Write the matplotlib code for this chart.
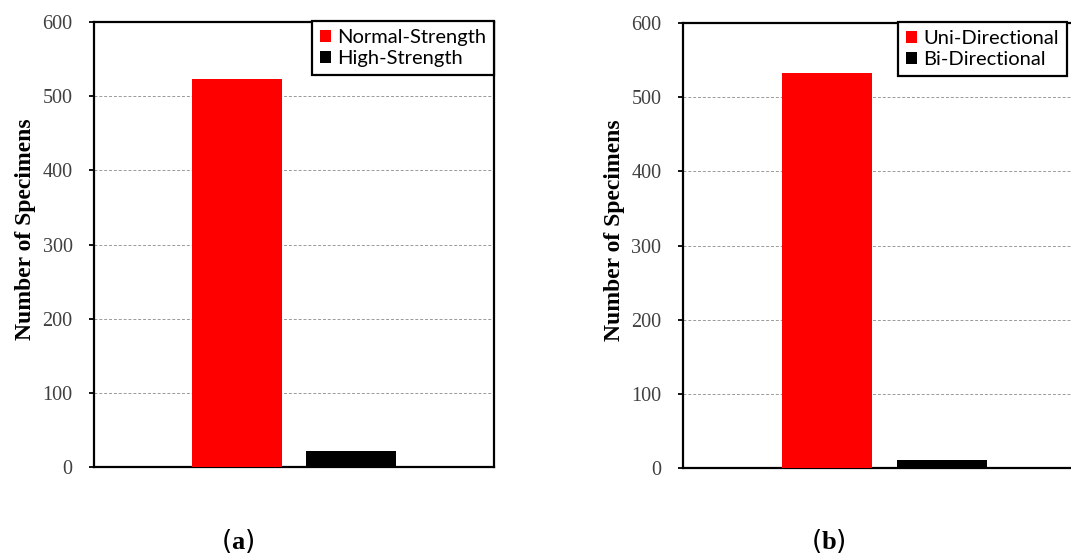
"""Two-panel bar chart: number of specimens by strength and loading direction."""

import matplotlib
matplotlib.use('Agg')
import matplotlib.pyplot as plt
from matplotlib.patches import Patch
import numpy as np

plt.rcParams['mathtext.fontset'] = 'custom'
plt.rcParams['mathtext.rm'] = 'Liberation Serif'
plt.rcParams['mathtext.bf'] = 'Liberation Serif:bold'

# Panel (a): concrete strength
strength_labels = ["Normal-Strength", "High-Strength"]
strength_counts = [523, 21]

# Panel (b): loading direction
direction_labels = ["Uni-Directional", "Bi-Directional"]
direction_counts = [533, 11]

bar_colors = ["#ff0000", "#000000"]
y_ticks = [0, 100, 200, 300, 400, 500, 600]

fig = plt.figure(figsize=(10.71, 5.53), dpi=100, facecolor="white")


def draw_panel(rect, labels, counts, tag, leg_anchor, leg_loc):
    ax = fig.add_axes(rect)
    x = np.arange(len(counts))
    ax.bar(x, counts, width=0.79, color=bar_colors, zorder=3)
    ax.set_xlim(-1.254, 2.254)
    ax.set_ylim(0, 600)
    ax.set_xticks([])
    ax.set_yticks(y_ticks)
    ax.set_yticklabels([str(t) for t in y_ticks], fontsize=14.5,
                       family="Liberation Serif", color="#404040")
    ax.tick_params(axis="y", direction="out", length=3.5, width=1.3, pad=12)
    ax.grid(axis="y", linestyle=(0, (3, 2)), color="#9a9a9a", linewidth=0.7, zorder=0)
    for s in ax.spines.values():
        s.set_linewidth(1.6)
        s.set_color("black")
    ax.set_ylabel("Number of Specimens", fontsize=17, family="Liberation Serif",
                  fontweight="bold")
    ax.yaxis.set_label_coords(-0.145, 0.535)
    handles = [Patch(facecolor=c, edgecolor="none") for c in bar_colors]
    leg = ax.legend(handles, labels, loc=leg_loc, bbox_to_anchor=leg_anchor,
                    borderaxespad=0, fancybox=False, framealpha=1, edgecolor="black",
                    prop={"family": "Lato", "size": 14.5}, handlelength=0.55,
                    handleheight=0.55, handletextpad=0.3, labelspacing=0.2,
                    borderpad=0.4)
    leg.get_frame().set_linewidth(1.6)
    leg.set_zorder(5)
    fig.text(rect[0] + rect[2] * 0.36, 0.0217, r"($\mathbf{%s}$)" % tag,
             ha="center", va="center", fontsize=19)
    return ax


draw_panel([0.0878, 0.1555, 0.3735, 0.8047], strength_labels, strength_counts, "a",
           (1.0, 1.003), "upper right")
draw_panel([0.6377, 0.1537, 0.3763, 0.8047], direction_labels, direction_counts, "b",
           (0.534, 1.003), "upper left")

fig.savefig("out.png", dpi=100, facecolor="white")
